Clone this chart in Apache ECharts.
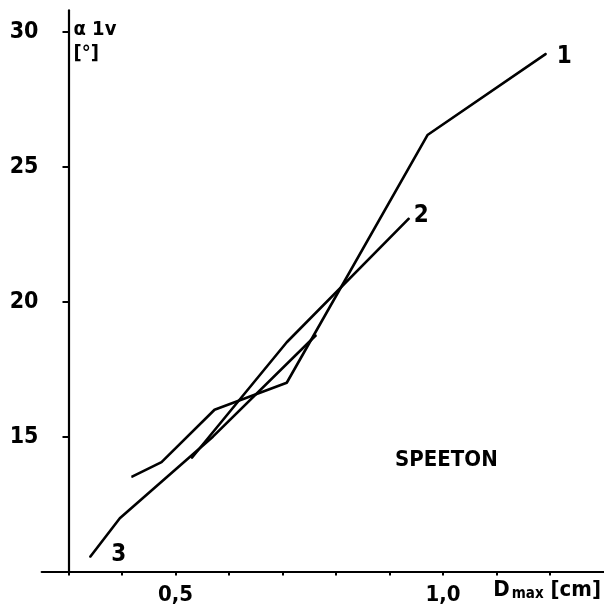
<!DOCTYPE html>
<html>
<head>
<meta charset="utf-8">
<script src="https://cdn.jsdelivr.net/npm/echarts@6/dist/echarts.min.js"></script>
<style>
html,body{margin:0;padding:0;background:#fff;}
#chart{width:604px;height:608px;}
</style>
</head>
<body>
<div id="chart"></div>
<script>
// Curve 1
const s1x = [0.418, 0.474, 0.573, 0.708, 0.971, 1.193];
const s1y = [13.51, 14.06, 16.0, 17.0, 26.18, 29.2];
// Curve 2
const s2x = [0.530, 0.708, 0.937];
const s2y = [14.2, 18.5, 23.1];
// Curve 3
const s3x = [0.340, 0.396, 0.570, 0.763];
const s3y = [10.53, 11.98, 15.0, 18.77];

const xTicks = [0.3, 0.4, 0.5, 0.6, 0.7, 0.8, 0.9, 1.0, 1.1, 1.2];
const xLabels = [0.5, 1.0];
const yTicks = [15, 20, 25, 30];
const curveNames = ['1', '2', '3'];
const siteName = 'SPEETON';

const FONT = '"DejaVu Sans Condensed", "DejaVu Sans", sans-serif';

function pairs(xs, ys) { return xs.map((x, i) => [x, ys[i]]); }

function makeSeries(xs, ys, name, labelIndex, labelCfg) {
  return {
    type: 'line',
    name: name,
    data: pairs(xs, ys),
    symbol: 'circle',
    symbolSize: 1,
    showSymbol: true,
    itemStyle: { color: '#000' },
    lineStyle: { color: '#000', width: 2.6 },
    animation: false,
    label: Object.assign({
      show: true,
      color: '#000',
      fontFamily: FONT,
      fontWeight: 'bold',
      fontSize: 24,
      formatter: p => p.dataIndex === labelIndex ? name : ''
    }, labelCfg)
  };
}

const chart = echarts.init(document.getElementById('chart'), null, { renderer: 'canvas' });
chart.setOption({
  backgroundColor: '#fff',
  animation: false,
  title: {
    text: siteName,
    left: 390,
    top: 444,
    textStyle: { fontFamily: FONT, fontWeight: 'bold', fontSize: 22, color: '#000' }
  },
  grid: { left: 41.7, right: 0, top: 10.4, bottom: 36.4, containLabel: false },
  xAxis: {
    type: 'value',
    min: 0.25,
    max: 1.3,
    splitLine: { show: false },
    axisLine: { onZero: false, lineStyle: { color: '#000', width: 2.2 } },
    axisTick: { customValues: xTicks, length: 4, lineStyle: { color: '#000', width: 2 } },
    axisLabel: {
      customValues: xLabels,
      margin: 13,
      color: '#000',
      fontFamily: FONT,
      fontWeight: 'bold',
      fontSize: 22,
      formatter: v => v.toFixed(1).replace('.', ',')
    },
    name: '{d|D}{m|max}{d| [cm]}',
    nameLocation: 'end',
    nameGap: -2.5,
    nameTextStyle: {
      align: 'right',
      verticalAlign: 'top',
      padding: [8, 0, 0, 0],
      rich: {
        d: { fontFamily: FONT, fontWeight: 'bold', fontSize: 22, color: '#000', verticalAlign: 'bottom' },
        m: { fontFamily: FONT, fontWeight: 'bold', fontSize: 15, color: '#000', verticalAlign: 'bottom', padding: [0, 0, 0, 2] }
      }
    }
  },
  yAxis: {
    type: 'value',
    min: 10,
    max: 30.8,
    interval: 5,
    position: 'left',
    offset: -26.8,
    splitLine: { show: false },
    axisLine: { onZero: false, lineStyle: { color: '#000', width: 2.2 } },
    axisTick: { customValues: yTicks, length: 6, lineStyle: { color: '#000', width: 2 } },
    axisLabel: {
      customValues: yTicks,
      margin: 30,
      color: '#000',
      fontFamily: FONT,
      fontWeight: 'bold',
      fontSize: 23
    },
    name: 'α 1v\n[°]',
    nameLocation: 'end',
    nameGap: -7,
    nameTextStyle: {
      align: 'left',
      verticalAlign: 'top',
      color: '#000',
      fontFamily: FONT,
      fontWeight: 'bold',
      fontSize: 20,
      lineHeight: 24,
      padding: [0, 0, 0, 5]
    }
  },
  series: [
    makeSeries(s1x, s1y, curveNames[0], s1x.length - 1, { position: 'right', distance: 10, offset: [0, 3] }),
    makeSeries(s2x, s2y, curveNames[1], s2x.length - 1, { position: 'right', distance: 4, offset: [0, -2] }),
    makeSeries(s3x, s3y, curveNames[2], 0, { position: 'right', distance: 21, offset: [0, -3] })
  ]
});
</script>
</body>
</html>
